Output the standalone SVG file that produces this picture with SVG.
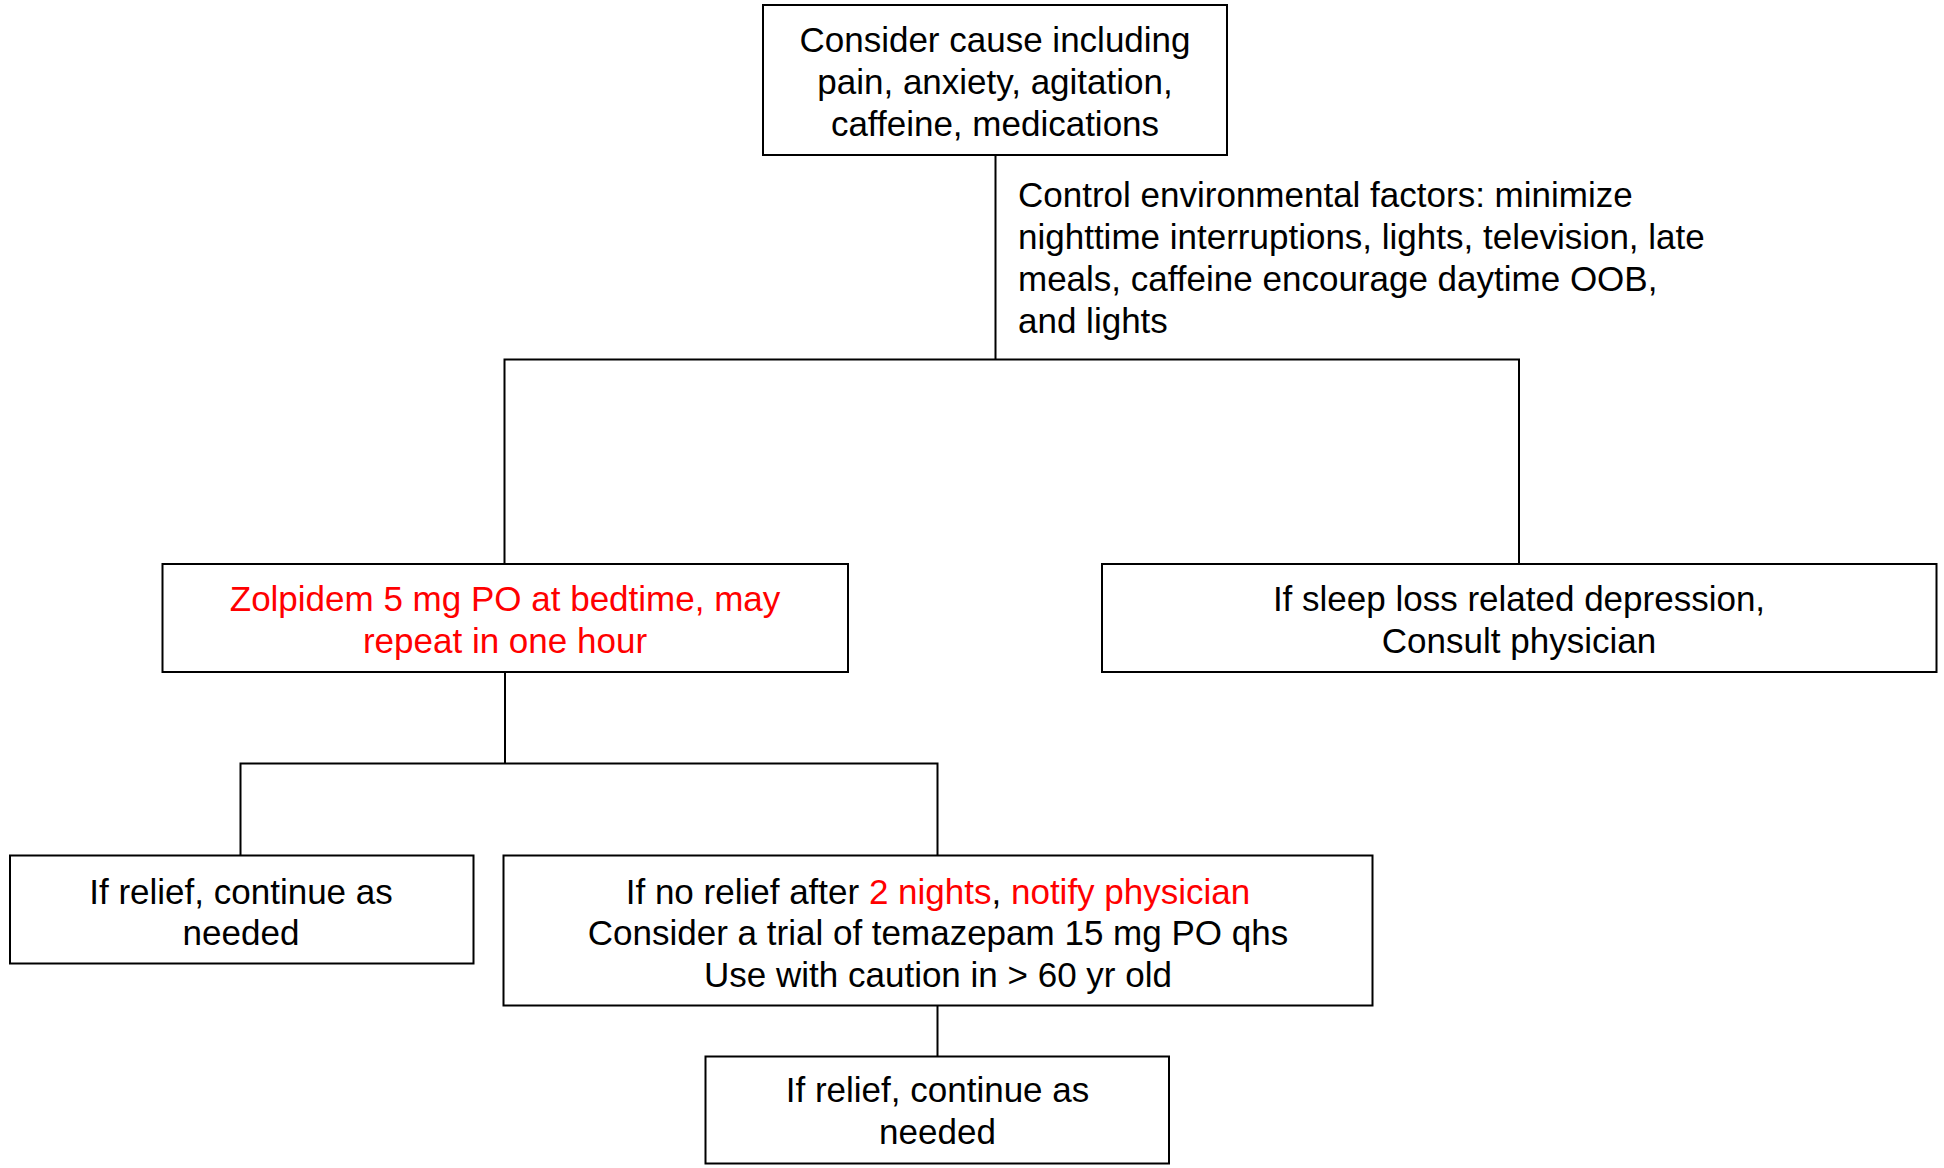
<svg xmlns="http://www.w3.org/2000/svg" width="1944" height="1168" viewBox="0 0 1944 1168">
<style>
.box{fill:#fff;stroke:#000;stroke-width:2}
.ln{fill:none;stroke:#000;stroke-width:2}
text{font-family:"Liberation Sans",Arial,sans-serif;font-size:35px;fill:#000}
.c{text-anchor:middle}
.r{fill:#ff0000}
</style>
<rect width="1944" height="1168" fill="#fff"/>
<g id="connectors">
<path class="ln" d="M995.5 155V359.5M504.5 564V359.5H1519V564"/>
<path class="ln" d="M505 672V763.5M240.5 855.5V763.5H937.5V855.5"/>
<path class="ln" d="M937.5 1005.5V1056.5"/>
<text x="1018" y="207">Control environmental factors: minimize</text>
<text x="1018" y="249">nighttime interruptions, lights, television, late</text>
<text x="1018" y="291">meals, caffeine encourage daytime OOB,</text>
<text x="1018" y="333">and lights</text>
</g>
<g id="n1">
<rect class="box" x="763" y="5" width="464" height="150"/>
<text class="c" x="995" y="52">Consider cause including</text>
<text class="c" x="995" y="94">pain, anxiety, agitation,</text>
<text class="c" x="995" y="136">caffeine, medications</text>
</g>
<g id="n2">
<rect class="box" x="162.5" y="564" width="685.5" height="108"/>
<text class="c r" x="505" y="611">Zolpidem 5 mg PO at bedtime, may</text>
<text class="c r" x="505" y="653">repeat in one hour</text>
</g>
<g id="n3">
<rect class="box" x="1102" y="564" width="834.5" height="108"/>
<text class="c" x="1519" y="611">If sleep loss related depression,</text>
<text class="c" x="1519" y="653">Consult physician</text>
</g>
<g id="n4">
<rect class="box" x="10" y="855.5" width="463.5" height="108"/>
<text class="c" x="241" y="903.5">If relief, continue as</text>
<text class="c" x="241" y="944.5">needed</text>
</g>
<g id="n5">
<rect class="box" x="503.5" y="855.5" width="869" height="150"/>
<text class="c" x="938" y="903.5">If no relief after <tspan class="r">2 nights</tspan>, <tspan class="r">notify physician</tspan></text>
<text class="c" x="938" y="944.5">Consider a trial of temazepam 15 mg PO qhs</text>
<text class="c" x="938" y="986.5">Use with caution in &gt; 60 yr old</text>
</g>
<g id="n6">
<rect class="box" x="705.5" y="1056.5" width="463.5" height="107"/>
<text class="c" x="937.5" y="1102">If relief, continue as</text>
<text class="c" x="937.5" y="1144">needed</text>
</g>
</svg>
